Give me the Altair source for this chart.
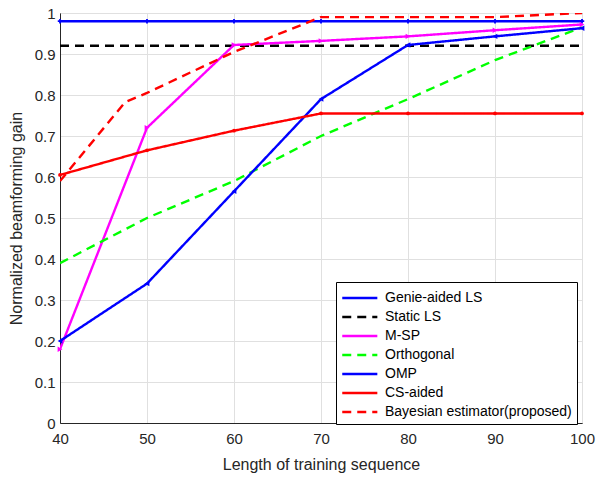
import altair as alt
import pandas as pd

series_order = ["Genie-aided LS", "Static LS", "M-SP", "Orthogonal", "OMP", "CS-aided",
                "Bayesian estimator(proposed)"]
series_colors = ["#0000FF", "#000000", "#FF00FF", "#00FF00", "#0000FF", "#FF0000", "#FF0000"]
series_dash = [[1, 0], [9, 6], [1, 0], [9, 6], [1, 0], [1, 0], [9, 6]]

x_std = [40, 50, 60, 70, 80, 90, 100]
genie = [0.98, 0.98, 0.98, 0.98, 0.98, 0.98, 0.98]
static_ls = [0.92, 0.92, 0.92, 0.92, 0.92, 0.92, 0.92]
msp = [0.18, 0.72, 0.922, 0.932, 0.943, 0.958, 0.972]
orth = [0.39, 0.50, 0.59, 0.70, 0.79, 0.885, 0.965]
omp = [0.20, 0.34, 0.565, 0.79, 0.922, 0.943, 0.963]
cs = [0.605, 0.665, 0.713, 0.755, 0.755, 0.755, 0.755]
x_bayes = [40, 47.5, 50, 60, 70, 80, 90, 100]
bayes = [0.59, 0.783, 0.805, 0.905, 0.99, 0.99, 0.99, 1.0]

rows = []
for name, ys in [("Genie-aided LS", genie), ("Static LS", static_ls), ("M-SP", msp),
                 ("Orthogonal", orth), ("OMP", omp), ("CS-aided", cs)]:
    for i, (x, y) in enumerate(zip(x_std, ys)):
        rows.append({"series": name, "x": x, "y": y, "ord": i})
for i, (x, y) in enumerate(zip(x_bayes, bayes)):
    rows.append({"series": "Bayesian estimator(proposed)", "x": x, "y": y, "ord": i})
df = pd.DataFrame(rows)

markers = [("Genie-aided LS", "cross", "#0000FF", 20),
           ("M-SP", "triangle-right", "#FF00FF", 30),
           ("OMP", "triangle-left", "#0000FF", 30),
           ("CS-aided", "circle", "#FF0000", 14)]

FONT = "Liberation Sans"

color_scale = alt.Scale(domain=series_order, range=series_colors)
dash_scale = alt.Scale(domain=series_order, range=series_dash)

xenc = alt.X("x:Q", scale=alt.Scale(domain=[40, 100], nice=False, zero=False),
             axis=alt.Axis(values=x_std, title="Length of training sequence", grid=True,
                           tickSize=0, labelPadding=8, titlePadding=10, labelFlush=False))
yenc = alt.Y("y:Q", scale=alt.Scale(domain=[0, 1], nice=False),
             axis=alt.Axis(values=[0, 0.1, 0.2, 0.3, 0.4, 0.5, 0.6, 0.7, 0.8, 0.9, 1],
                           title="Normalized beamforming gain", grid=True, tickSize=0,
                           labelPadding=5, titlePadding=10, labelFlush=False,
                           labelExpr="datum.value == 0 ? '0' : datum.value == 1 ? '1' : format(datum.value, '.1f')"))

lines = alt.Chart(df).mark_line(strokeWidth=2.4, clip=True).encode(
    x=xenc, y=yenc,
    color=alt.Color("series:N", scale=color_scale, sort=series_order,
                    legend=alt.Legend(title=None, orient="none", legendX=276, legendY=269,
                                      symbolType="M-1,0H2.6", symbolSize=380, symbolStrokeWidth=2.4,
                                      labelFontSize=14, labelFont=FONT, labelColor="#000000",
                                      strokeColor="#000000", fillColor="#ffffff", padding=5,
                                      rowPadding=1, labelOffset=22, labelLimit=300)),
    strokeDash=alt.StrokeDash("series:N", scale=dash_scale, sort=series_order, legend=None),
    order="ord:Q",
)

layers = [lines]
for name, shp, col, sz in markers:
    layers.append(
        alt.Chart(df).transform_filter(alt.datum.series == name).mark_point(
            filled=True, size=sz, opacity=1, shape=shp, color=col
        ).encode(x="x:Q", y="y:Q")
    )

chart = alt.layer(*layers).properties(
    width=522, height=410,
    padding={"left": 60, "top": 13, "right": 16, "bottom": 54},
    autosize=alt.AutoSizeParams(type="none"),
).configure_view(stroke="#262626", strokeWidth=1).configure_axis(
    labelFont=FONT, titleFont=FONT, labelFontSize=15, titleFontSize=16,
    labelColor="#262626", titleColor="#262626", titleFontWeight="normal",
    gridColor="#e0e0e0", gridWidth=1, domainColor="#262626", domainWidth=1,
)

chart.save("out.html", embed_options={"renderer": "svg", "actions": False})
